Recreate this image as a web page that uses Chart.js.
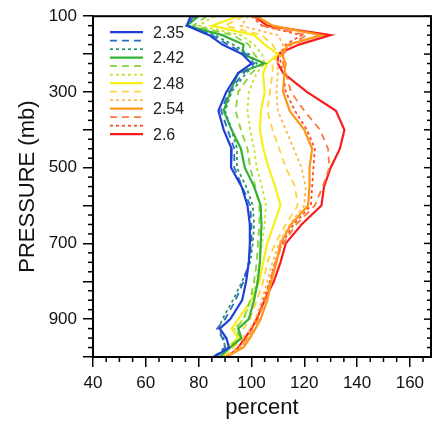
<!DOCTYPE html>
<html>
<head>
<meta charset="utf-8">
<script src="https://cdn.jsdelivr.net/npm/chart.js@4"></script>
<style>
    html, body { margin: 0; padding: 0; background: #fff; }
    #wrap { width: 432px; height: 423px; }
</style>
</head>
<body>
<div id="wrap"><canvas id="profileChart" width="432" height="423"></canvas></div>
<script>
const pressureLevels = [100, 125, 150, 175, 200, 225, 250, 300, 350, 400, 450, 500, 550, 600, 650, 700, 750, 800, 850, 900, 925, 950, 975, 1000];

const run01 = [77, 75.5, 84, 89, 96.5, 100, 95, 90.5, 87.5, 89.5, 92.5, 92.3, 96.3, 98.5, 99.4, 99.4, 99, 98, 96.5, 92, 88, 90.5, 91.5, 86];
const run02 = [78, 76, 85, 91, 98, 101, 97, 91.5, 88.5, 91, 93.5, 93.5, 96.5, 99.5, 100, 100, 99, 97, 94, 90, 87, 89, 90, 85.5];
const run03 = [79, 76, 86, 93, 99, 102, 98, 92.5, 90, 92.5, 94.5, 94.5, 98, 100.5, 101, 100.5, 99.5, 96.5, 93, 89, 87.5, 89.5, 90, 86];
const run04 = [80, 75.5, 89, 97, 96.5, 105, 95, 92, 89.5, 92.5, 96, 97.5, 101, 103.5, 103.8, 103.5, 103.2, 102.4, 101, 99, 95, 96.2, 92, 88];
const run05 = [83, 78, 93, 99, 101, 104, 100, 95, 94, 96, 98.5, 99.5, 101.5, 103, 103, 102.5, 102, 101, 99.5, 97, 94, 96, 91, 88];
const run06 = [86, 80, 96, 101, 104, 105, 102, 99, 98.5, 99.5, 101, 102, 104, 105.5, 105, 104, 103, 102, 100, 97, 93.5, 95.5, 91, 88.5];
const run07 = [95, 85, 101, 105, 110, 106, 104.4, 105, 103.6, 103.2, 104.5, 106.5, 109, 111, 108.5, 106, 104.5, 103, 100, 95, 92.5, 95, 91, 89];
const run08 = [97, 90, 104, 108, 110, 108, 108, 107, 106, 108, 110.5, 113, 116.5, 117.5, 113, 109, 106, 104.5, 102, 99.5, 97, 97, 93, 89.5];
const run09 = [99, 96, 110, 112, 111, 110, 110, 109.5, 110, 113, 116, 119, 120.5, 120, 114.5, 110.5, 108, 106, 104, 101.5, 99.5, 98.5, 95.5, 90];
const run10 = [102, 108, 126.5, 114, 111.5, 113, 112.5, 112, 114.5, 120, 123, 122, 122, 121.4, 115, 111, 109.5, 107.5, 106, 103.5, 101.5, 99.4, 97, 90.5];
const run11 = [101, 104, 121, 115, 112, 112, 113, 115, 120, 126, 129, 129.5, 127, 124, 117, 112, 109, 107, 105, 102.5, 100.5, 98.5, 96, 90];
const run12 = [100, 104, 119, 113, 111, 111, 112, 113, 116.5, 121, 124, 123.5, 123, 122.5, 116, 111.5, 109, 107, 104.5, 102, 100, 98, 95.5, 90.5];
const run13 = [101, 106, 130, 118, 110, 110, 112, 121, 132, 135.2, 133.5, 130, 127.5, 126.5, 119, 113, 111, 108.5, 105, 102, 100, 97.5, 95, 91];

const allRuns = [run01, run02, run03, run04, run05, run06, run07, run08, run09, run10, run11, run12, run13];
const runLabels = ['2.35', '', '', '2.42', '', '', '2.48', '', '', '2.54', '', '', '2.6'];
const runColors = ['#1f3fd6', '#2a6fbf', '#2a9a68', '#33b233', '#86d43a', '#c4e42c', '#f7ef18', '#ffd23e', '#ffb84a', '#ff9616', '#ff7a3a', '#ff4a2a', '#f81c1c'];
const runStyles = ['solid', 'dash', 'dot', 'solid', 'dash', 'dot', 'solid', 'dash', 'dot', 'solid', 'dash', 'dot', 'solid'];

const xTickLabels = [40, 60, 80, 100, 120, 140, 160];
const yTickLabels = [100, 300, 500, 700, 900];

const dashFor = { solid: [], dash: [7, 5], dot: [3, 3] };

/** --- PLUGINS --- **/

// frame, minor ticks and the little in-plot legend
const framePlugin = {
    id: 'frame',
    afterDatasetsDraw(chart) {
        const { ctx, chartArea: a, scales } = chart;
        ctx.save();
        ctx.strokeStyle = '#000';
        ctx.lineWidth = 1.5;

        // minor ticks on x
        for (let v = 40; v <= 168; v += 5) {
            if (v % 20 === 0) continue;
            const x = scales.x.getPixelForValue(v);
            ctx.beginPath();
            ctx.moveTo(x, a.bottom);
            ctx.lineTo(x, a.bottom + 5);
            ctx.stroke();
        }
        // minor ticks on y (left outward, right inward)
        for (let p = 100; p <= 1000; p += 25) {
            const y = scales.y.getPixelForValue(p);
            if (p % 100 !== 0) {
                ctx.beginPath();
                ctx.moveTo(a.left, y);
                ctx.lineTo(a.left - 5, y);
                ctx.stroke();
            }
            ctx.beginPath();
            ctx.moveTo(a.right, y);
            ctx.lineTo(a.right - (p % 100 === 0 ? 7 : 4), y);
            ctx.stroke();
        }

        ctx.lineWidth = 2;
        ctx.strokeRect(a.left, a.top, a.right - a.left, a.bottom - a.top);

        // legend
        const lx = a.left + 17, ly = a.top + 16, rowH = 8.5;
        chart.data.datasets.forEach((ds, i) => {
            const y = ly + i * rowH;
            ctx.beginPath();
            ctx.setLineDash(ds.borderDash);
            ctx.lineWidth = ds.borderWidth;
            ctx.strokeStyle = ds.borderColor;
            ctx.moveTo(lx, y);
            ctx.lineTo(lx + 33, y);
            ctx.stroke();
            if (ds.label) {
                ctx.setLineDash([]);
                ctx.fillStyle = '#222';
                ctx.font = '16px "Liberation Sans", Arial, sans-serif';
                ctx.textBaseline = 'middle';
                ctx.fillText(ds.label, lx + 43, y + 1);
            }
        });
        ctx.restore();
    }
};

/** --- CHART --- **/

function buildDatasets() {
    return allRuns.map((vals, i) => ({
        label: runLabels[i],
        data: vals.map((v, k) => ({ x: v, y: pressureLevels[k] })),
        borderColor: runColors[i],
        borderWidth: runStyles[i] === 'solid' ? 2.2 : 1.8,
        borderDash: dashFor[runStyles[i]],
        showLine: true,
        pointRadius: 0,
        tension: 0,
        fill: false
    }));
}

const tickFont = { family: '"Liberation Sans", Arial, sans-serif', size: 17 };
const titleFont = { family: '"Liberation Sans", Arial, sans-serif', size: 22 };

new Chart(document.getElementById('profileChart').getContext('2d'), {
    type: 'scatter',
    data: { datasets: buildDatasets() },
    options: {
        responsive: false,
        animation: false,
        layout: { padding: { left: 0, right: 1, top: 14, bottom: 0 } },
        plugins: { legend: { display: false }, tooltip: { enabled: false } },
        scales: {
            x: {
                type: 'linear',
                min: 40,
                max: 168,
                afterBuildTicks: s => { s.ticks = xTickLabels.map(v => ({ value: v })); },
                afterFit: s => { s.height = 66; },
                ticks: { stepSize: 20, color: '#111', font: tickFont, padding: 6, maxRotation: 0, autoSkip: false },
                grid: { display: true, drawOnChartArea: false, drawTicks: true, tickLength: 10, color: '#000', lineWidth: 1.5 },
                border: { display: false },
                title: { display: true, text: 'percent', color: '#111', font: titleFont, padding: { top: 0, bottom: 2 } }
            },
            y: {
                type: 'linear',
                reverse: true,
                min: 100,
                max: 1000,
                afterBuildTicks: s => { s.ticks = pressureLevels.filter(p => p % 100 === 0).map(p => ({ value: p })); },
                afterFit: s => { s.width = 93; },
                ticks: {
                    color: '#111', font: tickFont, padding: 6, autoSkip: false,
                    callback: v => yTickLabels.includes(v) ? String(v) : ''
                },
                grid: { display: true, drawOnChartArea: false, drawTicks: true, tickLength: 10, color: '#000', lineWidth: 1.5 },
                border: { display: false },
                title: { display: true, text: 'PRESSURE (mb)', color: '#111', font: titleFont, padding: { top: 15, bottom: 0 } }
            }
        }
    },
    plugins: [framePlugin]
});
</script>
</body>
</html>
